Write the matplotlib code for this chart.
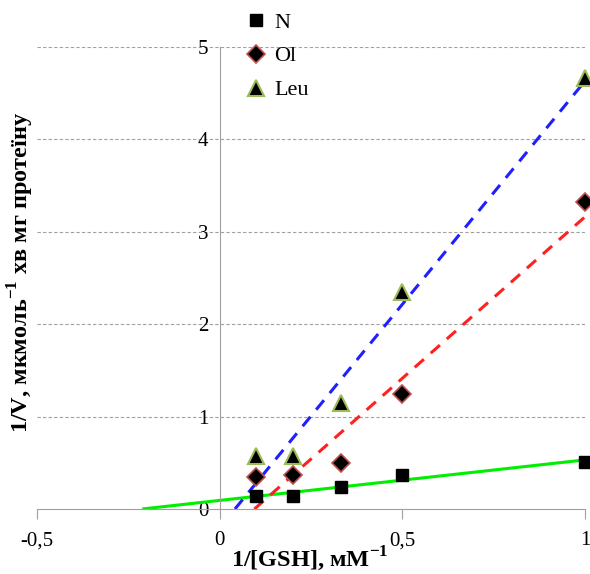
import numpy as np
import matplotlib
matplotlib.use("Agg")
import matplotlib.pyplot as plt

plt.rcParams['font.family'] = ['Liberation Serif', 'DejaVu Serif']
plt.rcParams['mathtext.fontset'] = 'custom'
plt.rcParams['mathtext.rm'] = 'Liberation Serif'
plt.rcParams['mathtext.bf'] = 'Liberation Serif:bold'

x = [0.1, 0.2, 0.333, 0.5, 1.0]
y_N = [0.14, 0.14, 0.24, 0.37, 0.51]
y_Ol = [0.35, 0.37, 0.50, 1.25, 3.32]
y_Leu = [0.57, 0.57, 1.15, 2.35, 4.66]
xticks = [-0.5, 0, 0.5, 1]
xticklabels = ["-0,5", "0", "0,5", "1"]
yticks = [0, 1, 2, 3, 4, 5]

fig = plt.figure(figsize=(5.9, 5.74), dpi=100)
ax = fig.add_axes([37/590, 65/574, 548/590, 462/574])
ax.set_xlim(-0.5, 1.0)
ax.set_ylim(0, 5)

for yy in yticks[1:]:
    ax.axhline(yy, color='#a0a0a0', lw=0.8, ls=(0, (3, 2)), zorder=0)

def trend(yv, color, ls, lw):
    m, b = np.polyfit(x, yv, 1)
    x0 = -b / m
    xs = np.array([x0, 1.0])
    ax.plot(xs, m * xs + b, color=color, ls=ls, lw=lw, zorder=2, solid_capstyle='butt')

trend(y_N, '#00ee00', '-', 2.2)
trend(y_Ol, '#ff2020', (0, (4, 3)), 2.2)
trend(y_Leu, '#2020ff', (0, (4, 3)), 2.2)

ax.plot(x, y_N, 's', color='black', ms=8, zorder=3, label='N', clip_on=False)
ax.plot(x, y_Ol, 'D', color='black', mec='#c0504d', mew=1.2, ms=9, zorder=3, label='Ol', clip_on=False)
ax.plot(x, y_Leu, '^', color='black', mec='#9bbb59', mew=1.5, ms=11, zorder=3, label='Leu', clip_on=False)

for s in ['top', 'right']:
    ax.spines[s].set_visible(False)
ax.spines['left'].set_position(('data', 0))
ax.spines['left'].set_color('#a0a0a0')
ax.spines['bottom'].set_color('#a0a0a0')
ax.set_xticks(xticks)
ax.set_xticklabels(xticklabels)
ax.set_yticks(yticks)
ax.tick_params(axis='x', length=7, color='#a0a0a0', labelsize=15, pad=9)
ax.tick_params(axis='y', length=0, labelsize=15, pad=8)

fig.text(310/590, 1/574, r"1/[GSH], мМ$^{\mathbf{-1}}$", fontsize=17.5, fontweight='bold',
         ha='center', va='bottom')
fig.text(0.035, (574 - 272) / 574, r"1/V, мкмоль$^{\mathbf{-1}}$ хв мг протеїну", rotation=90,
         fontsize=17.5, fontweight='bold', ha='center', va='center')

leg = ax.legend(loc='upper left', bbox_to_anchor=(0.368, 1.095), frameon=False, fontsize=16,
                handlelength=0.8, handletextpad=0.4, labelspacing=0.6, borderaxespad=0)

fig.savefig('out.png', dpi=100)
